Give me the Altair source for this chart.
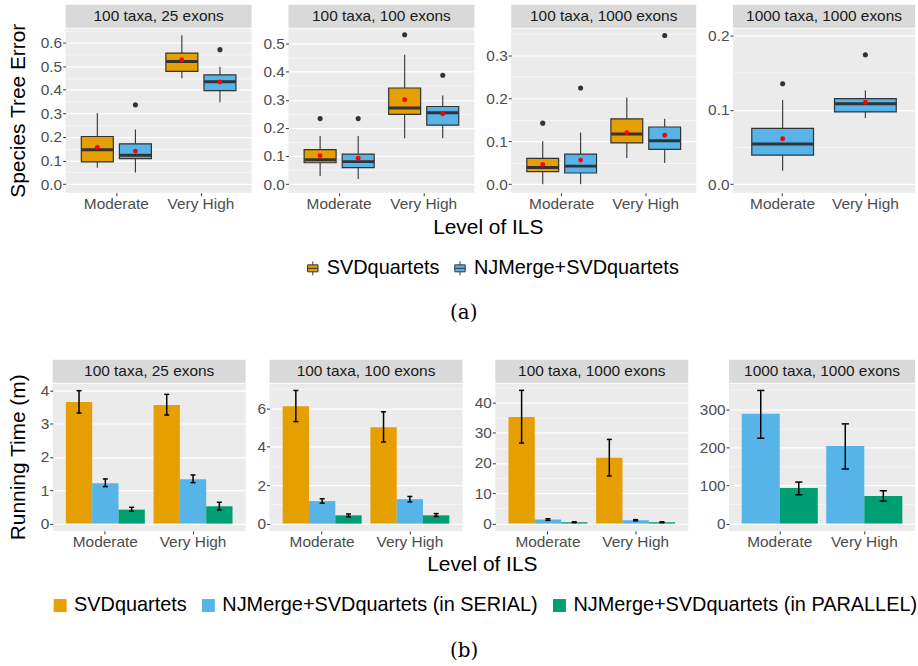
import altair as alt
import pandas as pd

# ---------------- data ----------------
ILS = ["Moderate", "Very High"]
PANELS = ["100 taxa, 25 exons", "100 taxa, 100 exons", "100 taxa, 1000 exons", "1000 taxa, 1000 exons"]

METHODS_A = ["SVDquartets", "NJMerge+SVDquartets"]
COLORS_A = ["#E69F00", "#56B4E9"]
METHODS_B = ["SVDquartets", "NJMerge+SVDquartets (in SERIAL)", "NJMerge+SVDquartets (in PARALLEL)"]
COLORS_B = ["#E69F00", "#56B4E9", "#009E73"]

# (a) species tree error: boxplot summaries
BOX_PANEL = [PANELS[0]] * 4 + [PANELS[1]] * 4 + [PANELS[2]] * 4 + [PANELS[3]] * 2
BOX_ILS = ["Moderate", "Moderate", "Very High", "Very High"] * 3 + ["Moderate", "Very High"]
BOX_METHOD = [METHODS_A[0], METHODS_A[1]] * 6 + [METHODS_A[1]] * 2
BOX_LOWER = [0.070, 0.049, 0.449, 0.347, 0.029, 0.018, 0.163, 0.163, 0.000, 0.000, 0.061, 0.049, 0.018, 0.089]
BOX_Q1 = [0.094, 0.108, 0.478, 0.396, 0.076, 0.059, 0.248, 0.210, 0.029, 0.026, 0.096, 0.081, 0.039, 0.097]
BOX_MEDIAN = [0.146, 0.122, 0.520, 0.434, 0.087, 0.080, 0.271, 0.254, 0.039, 0.042, 0.117, 0.101, 0.054, 0.108]
BOX_Q3 = [0.202, 0.171, 0.555, 0.463, 0.123, 0.107, 0.342, 0.276, 0.060, 0.070, 0.152, 0.133, 0.075, 0.115]
BOX_UPPER = [0.302, 0.232, 0.631, 0.497, 0.171, 0.171, 0.460, 0.315, 0.100, 0.120, 0.202, 0.152, 0.113, 0.126]
BOX_MEAN = [0.156, 0.140, 0.527, 0.433, 0.101, 0.092, 0.300, 0.250, 0.046, 0.056, 0.120, 0.114, 0.061, 0.110]
BOX_OUTLIER = [None, 0.336, None, 0.570, 0.233, 0.233, 0.531, 0.387, 0.142, 0.224, None, 0.346, 0.135, 0.174]

# (b) running time: means with error bars
BAR_PANEL = [PANELS[0]] * 6 + [PANELS[1]] * 6 + [PANELS[2]] * 6 + [PANELS[3]] * 4
BAR_ILS = (["Moderate"] * 3 + ["Very High"] * 3) * 3 + ["Moderate"] * 2 + ["Very High"] * 2
BAR_METHOD = METHODS_B * 6 + METHODS_B[1:] * 2
BAR_MEAN = [3.65, 1.21, 0.42, 3.56, 1.33, 0.52,
            6.10, 1.17, 0.43, 5.01, 1.27, 0.43,
            35.2, 1.33, 0.44, 21.7, 1.10, 0.44,
            287.7, 93.0, 203.5, 72.0]
BAR_LO = [3.32, 1.11, 0.37, 3.26, 1.23, 0.41,
          5.30, 1.06, 0.35, 4.24, 1.13, 0.37,
          26.6, 1.05, 0.30, 15.7, 0.90, 0.30,
          223.7, 75.4, 143.0, 58.8]
BAR_HI = [3.99, 1.34, 0.49, 3.88, 1.46, 0.64,
          6.92, 1.29, 0.50, 5.81, 1.41, 0.52,
          44.0, 1.60, 0.58, 27.8, 1.30, 0.58,
          349.0, 108.8, 261.4, 86.0]

# axis domains and tick labels
Y_DOMAIN_A = [[-0.0365, 0.659], [-0.0307, 0.553], [-0.020, 0.362], [-0.0116, 0.209]]
Y_TICKS_A = [[0.0, 0.1, 0.2, 0.3, 0.4, 0.5, 0.6], [0.0, 0.1, 0.2, 0.3, 0.4, 0.5],
             [0.0, 0.1, 0.2, 0.3], [0.0, 0.1, 0.2]]
Y_DOMAIN_B = [[-0.22, 4.20], [-0.38, 7.27], [-2.43, 46.2], [-19.3, 366.7]]
Y_TICKS_B = [[0, 1, 2, 3, 4], [0, 2, 4, 6], [0, 10, 20, 30, 40], [0, 100, 200, 300]]

box_df = pd.DataFrame({"panel": BOX_PANEL, "ils": BOX_ILS, "method": BOX_METHOD,
                       "lower": BOX_LOWER, "q1": BOX_Q1, "median": BOX_MEDIAN, "q3": BOX_Q3,
                       "upper": BOX_UPPER, "mean": BOX_MEAN, "outlier": BOX_OUTLIER})
bar_df = pd.DataFrame({"panel": BAR_PANEL, "ils": BAR_ILS, "method": BAR_METHOD,
                       "mean": BAR_MEAN, "lo": BAR_LO, "hi": BAR_HI})

# ---------------- style ----------------
FONT = "Liberation Sans"
TICK_GREY = "#4D4D4D"
DARK = "#333333"
WA = [187, 187, 186, 183]
HA = 165
WB = [194, 194, 194, 187]
HB = 148
STRIP_H = 23
LABEL_SIZE = 15.5
BOX_PATH = "M-0.75,-0.5H0.75V0.5H-0.75Z M-0.75,0H0.75 M0,-1V-0.5 M0,0.5V1"
XT = 26.5  # expected x of the y-title column origin


def y_axis(ticks, domain, fmt):
    step = ticks[1] - ticks[0]
    minor = [t + step / 2 for t in [ticks[0] - step] + ticks]
    vals = sorted(set(round(v, 6) for v in ticks + minor if domain[0] <= v <= domain[1]))
    test = f"abs(datum.value / {step} - round(datum.value / {step})) < 0.001"
    return alt.Axis(
        values=vals, format=fmt, title=None,
        labelExpr=f"({test}) ? datum.label : ''", labelOverlap=False, labelFlush=False,
        grid=True, gridColor="white",
        gridWidth={"condition": {"test": test, "value": 1.2}, "value": 0.55},
        tickOpacity={"condition": {"test": test, "value": 1}, "value": 0},
        tickColor=DARK, tickSize=3, tickWidth=1, domain=False,
        labelFont=FONT, labelFontSize=LABEL_SIZE, labelColor=TICK_GREY, labelPadding=1,
        minExtent=0,
    )


X_AXIS = alt.Axis(title=None, labelAngle=0, labelFont=FONT, labelFontSize=LABEL_SIZE,
                  labelColor=TICK_GREY, tickColor=DARK, tickSize=3, labelPadding=1,
                  grid=False, domain=False)
X_SCALE = alt.Scale(domain=ILS, paddingInner=0, paddingOuter=0.1)


def strip_layers(label, W):
    sdf = pd.DataFrame({"label": [label]})
    rect = alt.Chart(sdf).mark_rect(fill="#D9D9D9").encode(
        x=alt.value(0), x2=alt.value(W), y=alt.value(-STRIP_H - 1), y2=alt.value(-1))
    text = alt.Chart(sdf).mark_text(font=FONT, fontSize=LABEL_SIZE, color="#1A1A1A",
                                    baseline="middle", align="center").encode(
        x=alt.value(W / 2), y=alt.value(-1 - STRIP_H / 2), text="label:N")
    return [rect, text]


def ytitle_chart(text, H):
    tdf = pd.DataFrame({"t": [text]})
    return alt.Chart(tdf).mark_point(opacity=0).properties(
        width=1, height=H, view=alt.ViewBackground(fill="white", strokeWidth=0),
        title=alt.TitleParams(text, orient="left", anchor="middle", font=FONT, fontSize=21,
                              fontWeight="normal", color="black", offset=-8))


def box_panel(i):
    label = PANELS[i]
    df = box_df[box_df.panel == label]
    methods = [m for m in METHODS_A if m in set(df.method)]
    W = WA[i]
    step = W / 2.2
    if len(methods) == 2:
        off = alt.Scale(domain=methods, paddingInner=0.16, paddingOuter=0.19)
        bw = 0.375 * step
    else:
        off = alt.Scale(domain=methods, paddingInner=0, paddingOuter=0.17)
        bw = 0.75 * step
    ys = alt.Scale(domain=Y_DOMAIN_A[i], nice=False, zero=False)
    yax = y_axis(Y_TICKS_A[i], Y_DOMAIN_A[i], ".1f")
    base = alt.Chart(df).encode(x=alt.X("ils:N", scale=X_SCALE, axis=X_AXIS),
                                xOffset=alt.XOffset("method:N", scale=off))
    whisker = base.mark_rule(color=DARK, strokeWidth=1.1).encode(
        y=alt.Y("lower:Q", scale=ys, axis=yax), y2="upper:Q")
    box = base.mark_bar(stroke=DARK, strokeWidth=1.2).encode(
        y=alt.Y("q1:Q", scale=ys, axis=yax), y2="q3:Q",
        fill=alt.Fill("method:N", scale=alt.Scale(domain=METHODS_A, range=COLORS_A), legend=None))
    med = base.mark_tick(color=DARK, thickness=3, size=bw, opacity=1).encode(
        y=alt.Y("median:Q", scale=ys, axis=yax))
    outl = base.transform_filter("isValid(datum.outlier)").mark_circle(
        color=DARK, size=26, opacity=1).encode(y=alt.Y("outlier:Q", scale=ys, axis=yax))
    mean = base.mark_circle(color="#FF0000", size=24, opacity=1).encode(
        y=alt.Y("mean:Q", scale=ys, axis=yax))
    return alt.layer(whisker, box, med, outl, mean, *strip_layers(label, W)).properties(
        width=W, height=HA)


def bar_panel(i):
    label = PANELS[i]
    df = bar_df[bar_df.panel == label]
    methods = [m for m in METHODS_B if m in set(df.method)]
    W = WB[i]
    step = W / 2.2
    if len(methods) == 3:
        off = alt.Scale(domain=methods, paddingInner=0, paddingOuter=0.1667)
        bw = 0.3 * step
    else:
        off = alt.Scale(domain=methods, paddingInner=0, paddingOuter=0.111)
        bw = 0.45 * step
    cap = 0.19 * bw
    ys = alt.Scale(domain=Y_DOMAIN_B[i], nice=False, zero=False)
    yax = y_axis(Y_TICKS_B[i], Y_DOMAIN_B[i], "d")
    base = alt.Chart(df).encode(x=alt.X("ils:N", scale=X_SCALE, axis=X_AXIS),
                                xOffset=alt.XOffset("method:N", scale=off))
    bars = base.mark_bar().encode(
        y=alt.Y("mean:Q", scale=ys, axis=yax), y2=alt.datum(0),
        fill=alt.Fill("method:N", scale=alt.Scale(domain=METHODS_B, range=COLORS_B), legend=None))
    err = base.mark_rule(color="black", strokeWidth=1.5).encode(
        y=alt.Y("lo:Q", scale=ys, axis=yax), y2="hi:Q")
    cap_lo = base.mark_tick(color="black", thickness=1.5, size=cap, opacity=1).encode(
        y=alt.Y("lo:Q", scale=ys, axis=yax))
    cap_hi = base.mark_tick(color="black", thickness=1.5, size=cap, opacity=1).encode(
        y=alt.Y("hi:Q", scale=ys, axis=yax))
    return alt.layer(bars, err, cap_lo, cap_hi, *strip_layers(label, W)).properties(
        width=W, height=HB)


def legend_chart(methods, colors, leg_x, caption, box_style, font_size, col_pad, cap_offset):
    ldf = pd.DataFrame({"method": methods})
    kw = dict(orient="none", legendX=leg_x, legendY=0, direction="horizontal", title=None,
              labelFont=FONT, labelFontSize=font_size, labelColor="black", labelLimit=600,
              columnPadding=col_pad, labelOffset=4, padding=0, symbolOpacity=1)
    if box_style:
        kw.update(symbolType=BOX_PATH, symbolStrokeColor=DARK, symbolStrokeWidth=1, symbolSize=196)
    else:
        kw.update(symbolType="square", symbolStrokeWidth=0, symbolSize=169)
    return alt.Chart(ldf).mark_point(filled=True, opacity=0).encode(
        fill=alt.Fill("method:N", scale=alt.Scale(domain=methods, range=colors),
                      legend=alt.Legend(**kw))
    ).properties(
        width=400, height=1,
        view=alt.ViewBackground(fill="white", strokeWidth=0),
        title=alt.TitleParams(caption, orient="bottom", anchor="start", frame="group",
                              dx=456 - XT, font="DejaVu Serif", fontSize=20,
                              fontWeight="normal", color="black", offset=cap_offset),
    )


def row_title(dx, offset):
    return alt.TitleParams("Level of ILS", orient="bottom", anchor="start", frame="group",
                           dx=dx, offset=offset, font=FONT, fontSize=21,
                           fontWeight="normal", color="black")


row_a = alt.hconcat(ytitle_chart("Species Tree Error", HA), *[box_panel(i) for i in range(4)],
                    spacing=11).resolve_scale(xOffset="independent", y="independent").properties(
    title=row_title(439 - XT, 5))
row_b = alt.hconcat(ytitle_chart("Running Time (m)", HB), *[bar_panel(i) for i in range(4)],
                    spacing=11).resolve_scale(xOffset="independent", y="independent").properties(
    title=row_title(433 - XT, 4))

leg_a = legend_chart(METHODS_A, COLORS_A, 308 - XT, "(a)", True, 20, 10, 25)
leg_b = legend_chart(METHODS_B, COLORS_B, 54 - XT, "(b)", False, 20, 11, 26)

group_a = alt.vconcat(row_a, leg_a, spacing=17).resolve_scale(fill="independent")
group_b = alt.vconcat(row_b, leg_b, spacing=17).resolve_scale(fill="independent")

chart = alt.vconcat(group_a, group_b, spacing=37).resolve_scale(fill="independent").properties(
    padding={"left": 7, "top": 3, "right": 0, "bottom": 0}
).configure(font=FONT, background="white").configure_view(
    fill="#EBEBEB", strokeWidth=0
).configure_axis(labelFontSize=LABEL_SIZE, labelFont=FONT)

chart.save("out.html", embed_options={"renderer": "svg", "actions": False})
